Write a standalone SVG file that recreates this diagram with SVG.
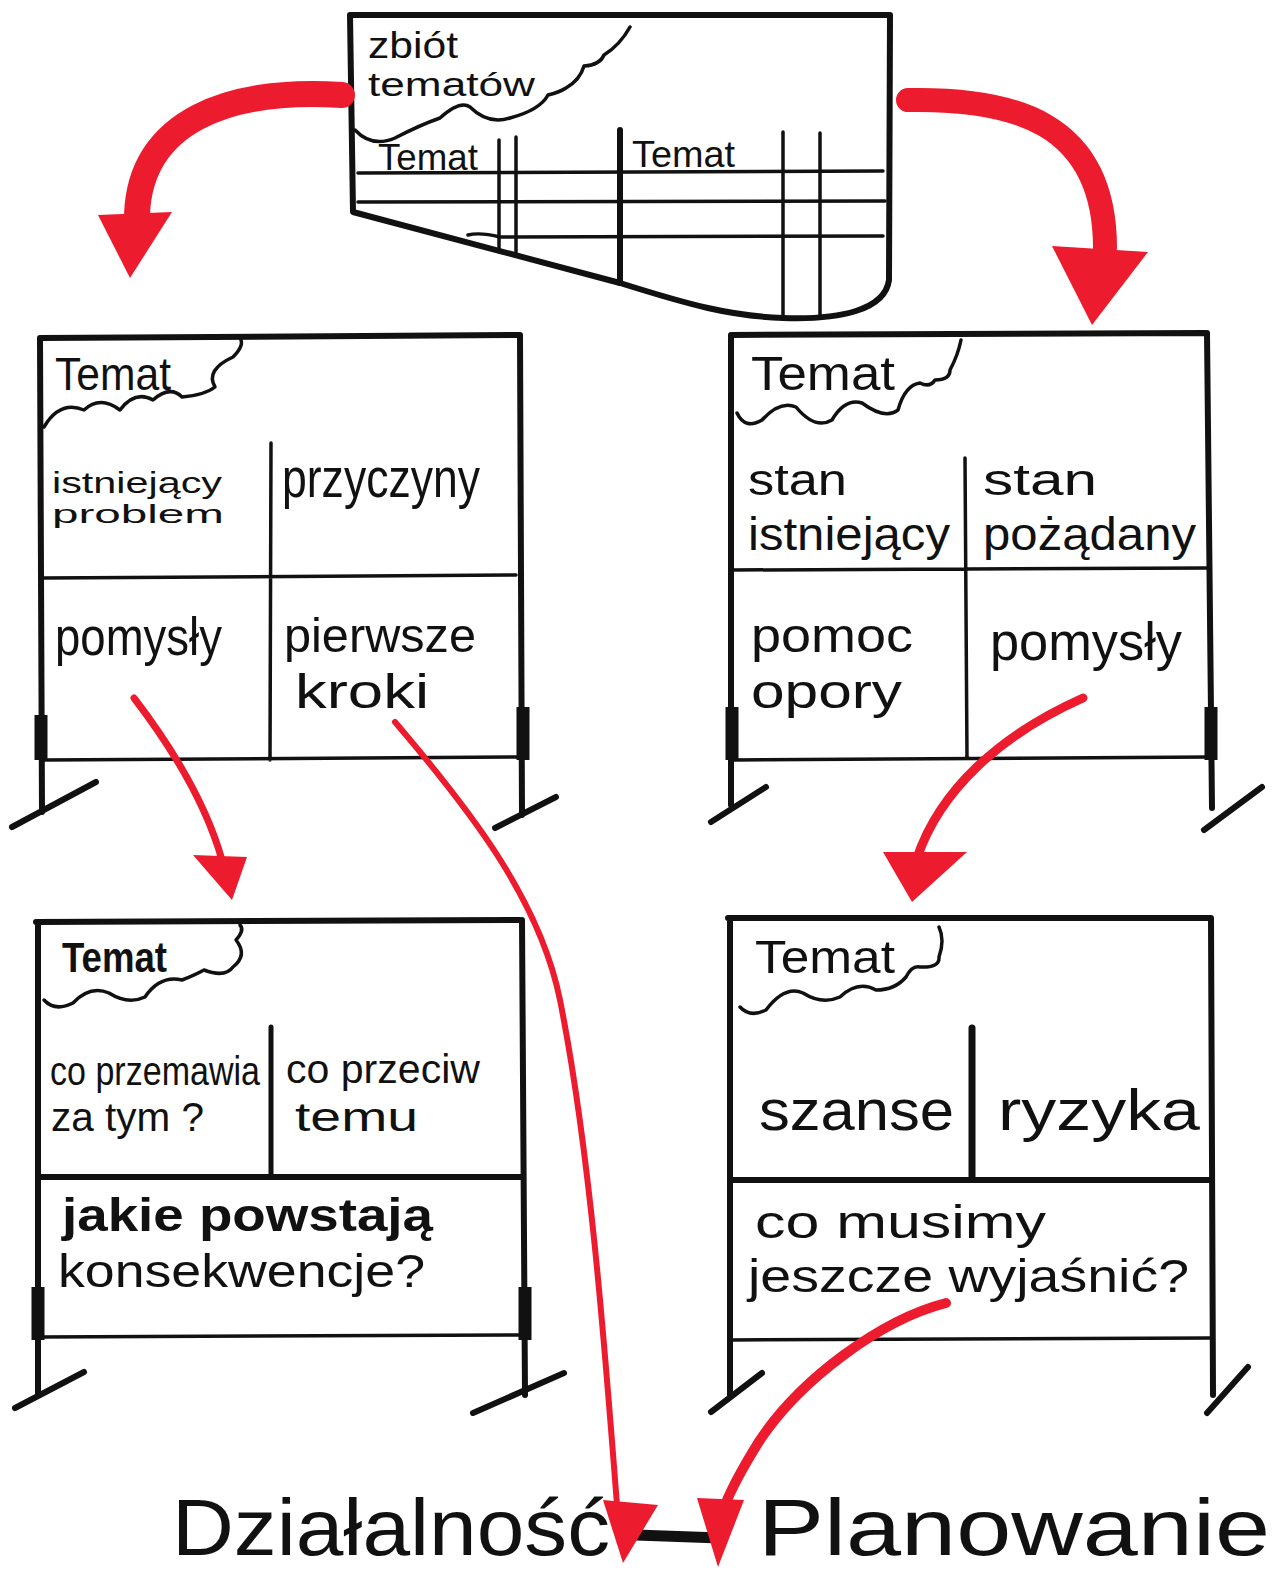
<svg xmlns="http://www.w3.org/2000/svg" width="1277" height="1573" viewBox="0 0 1277 1573">
<defs>
<style>
.ol{fill:none;stroke:#111;stroke-width:6;stroke-linecap:round;stroke-linejoin:round}
.ln{fill:none;stroke:#111;stroke-width:3.5;stroke-linecap:round}
.cl{fill:none;stroke:#111;stroke-width:3.5;stroke-linecap:round;stroke-linejoin:round}
.ck{fill:none;stroke:#111;stroke-width:13;stroke-linecap:butt}
.t{font-family:"Liberation Sans Narrow","Liberation Sans",Arial,sans-serif;fill:#111}
.rs{fill:none;stroke:#ec1c2e;stroke-linecap:round}
.rh{fill:#ec1c2e}
</style>
</defs>
<rect width="1277" height="1573" fill="#fff"/>

<g id="node-zbior">
<path class="ol" d="M350,15 L890,15 L889,280 C885,310 840,320 783,318 C730,316 690,305 620,283 L353,212 Z"/>
<path class="cl" d="M355,130 Q372,148 395,138 Q420,125 440,118 Q460,100 470,107 Q488,125 510,118 Q540,110 548,95 Q560,92 566,88 Q580,80 584,66 Q600,65 604,55 Q620,45 630,27"/>
<path class="ln" d="M358,173 L883,171 M358,202 L885,201 M468,235 Q480,232 500,237 L883,236"/>
<path class="ln" d="M499,140 L499,248 M516,137 L516,252 M783,132 L783,317 M820,133 L820,315"/>
<path class="ln" style="stroke-width:6" d="M620,130 L620,283"/>
<text class="t" x="368" y="58" font-size="36" textLength="90" lengthAdjust="spacingAndGlyphs">zbiót</text>
<text class="t" x="368" y="96" font-size="34" textLength="167" lengthAdjust="spacingAndGlyphs">tematów</text>
<text class="t" x="378" y="170" font-size="36" textLength="100" lengthAdjust="spacingAndGlyphs">Temat</text>
<text class="t" x="632" y="167" font-size="36" textLength="103" lengthAdjust="spacingAndGlyphs">Temat</text>
</g>

<g id="board-analiza">
<path class="ol" d="M40,338 L520,335 M40,338 L42,812 M520,335 L522,815 M12,827 L96,782 M495,828 L556,797"/>
<path class="ln" d="M44,760 L520,757 M44,578 L516,575 M271,443 L270,760"/>
<path class="ck" d="M41,715 L41,760 M523,707 L523,760"/>
<path class="cl" d="M44,427 Q60,400 84,410 Q100,395 120,410 Q135,390 153,400 Q170,385 182,397 Q205,395 215,387 Q205,370 233,357 Q245,345 240,338"/>
<text class="t" x="55" y="390" font-size="46" textLength="116" lengthAdjust="spacingAndGlyphs">Temat</text>
<text class="t" x="52" y="493" font-size="30" textLength="170" lengthAdjust="spacingAndGlyphs">istniejący</text>
<text class="t" x="52" y="523" font-size="26" textLength="172" lengthAdjust="spacingAndGlyphs">problem</text>
<text class="t" x="282" y="497" font-size="56" textLength="198" lengthAdjust="spacingAndGlyphs">przyczyny</text>
<text class="t" x="55" y="655" font-size="54" textLength="167" lengthAdjust="spacingAndGlyphs">pomysły</text>
<text class="t" x="284" y="652" font-size="48" textLength="192" lengthAdjust="spacingAndGlyphs">pierwsze</text>
<text class="t" x="295" y="708" font-size="48" textLength="134" lengthAdjust="spacingAndGlyphs">kroki</text>
</g>

<g id="board-stan">
<path class="ol" d="M731,335 L1205,333 M731,335 L731,805 M1207,333 L1212,808 M711,822 L766,787 M1204,830 L1262,787"/>
<path class="ln" d="M733,760 L1210,757 M733,570 L1207,568 M965,458 L967,757"/>
<path class="ck" d="M732,707 L732,760 M1211,707 L1211,760"/>
<path class="cl" d="M737,413 Q745,430 762,420 Q780,400 796,407 Q815,430 832,420 Q845,398 862,403 Q885,420 898,410 Q905,385 920,383 Q930,388 935,380 Q950,380 950,370 Q958,355 961,340"/>
<text class="t" x="751" y="390" font-size="48" textLength="144" lengthAdjust="spacingAndGlyphs">Temat</text>
<text class="t" x="748" y="495" font-size="44" textLength="99" lengthAdjust="spacingAndGlyphs">stan</text>
<text class="t" x="748" y="550" font-size="46" textLength="202" lengthAdjust="spacingAndGlyphs">istniejący</text>
<text class="t" x="983" y="495" font-size="44" textLength="114" lengthAdjust="spacingAndGlyphs">stan</text>
<text class="t" x="983" y="550" font-size="46" textLength="213" lengthAdjust="spacingAndGlyphs">pożądany</text>
<text class="t" x="751" y="652" font-size="48" textLength="162" lengthAdjust="spacingAndGlyphs">pomoc</text>
<text class="t" x="751" y="708" font-size="48" textLength="151" lengthAdjust="spacingAndGlyphs">opory</text>
<text class="t" x="990" y="660" font-size="54" textLength="192" lengthAdjust="spacingAndGlyphs">pomysły</text>
</g>

<g id="board-konsekwencje">
<path class="ol" d="M36,922 L520,920 M38,922 L38,1395 M522,920 L525,1395 M15,1408 L84,1372 M473,1413 L564,1373"/>
<path class="ln" d="M40,1337 L522,1335"/>
<path class="ln" style="stroke-width:6" d="M40,1177 L522,1177"/>
<path class="ln" style="stroke-width:5" d="M271,1027 L271,1177"/>
<path class="ck" d="M38,1287 L38,1340 M525,1287 L525,1340"/>
<path class="cl" d="M44,1000 Q55,1012 73,1003 Q90,985 109,993 Q128,1005 145,997 Q160,975 182,980 Q195,975 204,970 Q225,978 233,967 Q248,955 236,940 Q245,930 240,925"/>
<text class="t" x="62" y="972" font-size="42" font-weight="bold" textLength="105" lengthAdjust="spacingAndGlyphs">Temat</text>
<text class="t" x="50" y="1085" font-size="40" textLength="210" lengthAdjust="spacingAndGlyphs">co przemawia</text>
<text class="t" x="51" y="1131" font-size="40" textLength="153" lengthAdjust="spacingAndGlyphs">za tym ?</text>
<text class="t" x="286" y="1083" font-size="40" textLength="194" lengthAdjust="spacingAndGlyphs">co przeciw</text>
<text class="t" x="295" y="1131" font-size="40" textLength="123" lengthAdjust="spacingAndGlyphs">temu</text>
<text class="t" x="62" y="1231" font-size="46" font-weight="bold" textLength="371" lengthAdjust="spacingAndGlyphs">jakie powstają</text>
<text class="t" x="58" y="1287" font-size="46" textLength="367" lengthAdjust="spacingAndGlyphs">konsekwencje?</text>
</g>

<g id="board-ryzyka">
<path class="ol" d="M728,918 L1210,918 M730,918 L730,1395 M1211,918 L1213,1395 M711,1412 L762,1373 M1207,1413 L1248,1367"/>
<path class="ln" d="M730,1340 L1211,1338"/>
<path class="ln" style="stroke-width:6" d="M730,1180 L1211,1180"/>
<path class="ln" style="stroke-width:7" d="M972,1028 L972,1177"/>
<path class="cl" d="M740,1007 Q750,1018 766,1010 Q785,985 803,993 Q822,1005 840,997 Q858,980 876,990 Q895,990 906,977 Q912,965 920,967 Q940,968 939,957 Q945,940 939,927"/>
<text class="t" x="755" y="973" font-size="46" textLength="140" lengthAdjust="spacingAndGlyphs">Temat</text>
<text class="t" x="759" y="1130" font-size="58" textLength="195" lengthAdjust="spacingAndGlyphs">szanse</text>
<text class="t" x="998" y="1130" font-size="58" textLength="202" lengthAdjust="spacingAndGlyphs">ryzyka</text>
<text class="t" x="755" y="1238" font-size="46" textLength="291" lengthAdjust="spacingAndGlyphs">co musimy</text>
<text class="t" x="748" y="1292" font-size="46" textLength="441" lengthAdjust="spacingAndGlyphs">jeszcze wyjaśnić?</text>
</g>

<g id="label-dzialalnosc">
<text class="t" x="172" y="1555" font-size="80" textLength="438" lengthAdjust="spacingAndGlyphs">Działalność</text>
</g>
<g id="label-planowanie">
<text class="t" x="758" y="1555" font-size="80" textLength="512" lengthAdjust="spacingAndGlyphs">Planowanie</text>
</g>

<g id="connectors">
<path d="M636,1535 L720,1538" fill="none" stroke="#111" stroke-width="11"/>
<path class="rs" stroke-width="26" stroke-linecap="butt" d="M342,95 C230,88 140,120 137,215"/>
<polygon class="rh" points="98,215 172,212 130,278"/>
<path class="rs" stroke-width="24" stroke-linecap="butt" d="M908,100 C1010,98 1105,120 1105,248"/>
<polygon class="rh" points="1052,246 1148,252 1092,325"/>
<path class="rs" stroke-width="7" d="M134,698 C170,745 205,800 222,860"/>
<polygon class="rh" points="193,855 247,857 232,900"/>
<path class="rs" stroke-width="6" d="M395,722 C470,810 540,900 560,1000 C590,1150 605,1350 617,1505"/>
<polygon class="rh" points="603,1500 658,1505 623,1563"/>
<path class="rs" stroke-width="9" d="M1083,698 C1000,735 940,790 917,858"/>
<polygon class="rh" points="883,852 967,852 912,902"/>
<path class="rs" stroke-width="10" d="M946,1303 C880,1320 800,1380 760,1440 C735,1480 727,1500 725,1505"/>
<polygon class="rh" points="697,1498 744,1500 718,1567"/>
</g>
</svg>
